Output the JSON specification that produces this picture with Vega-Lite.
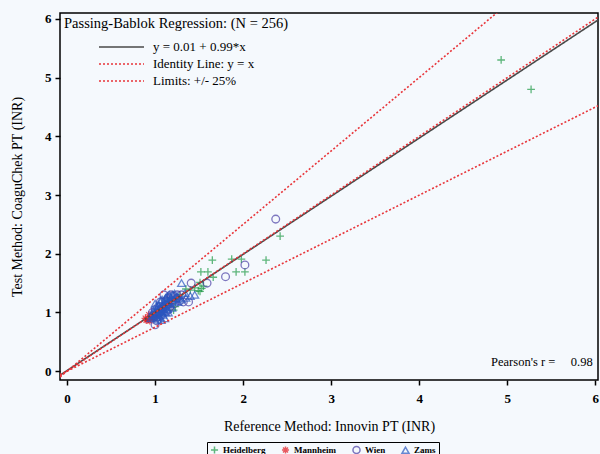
{
  "$schema": "https://vega.github.io/schema/vega-lite/v6.json",
  "width": 538,
  "height": 367,
  "autosize": {"type": "none"},
  "padding": {"left": 60, "top": 13, "right": 2, "bottom": 74},
  "background": "#f5f9fd",
  "config": {
    "font": "Liberation Serif",
    "view": {"stroke": "black", "strokeWidth": 1.5},
    "axis": {
      "domain": false, "grid": false,
      "tickColor": "black", "tickWidth": 1.5, "tickSize": 5,
      "labelFont": "Liberation Serif", "labelFontSize": 13, "labelFontWeight": "bold", "labelColor": "black",
      "titleFont": "Liberation Serif", "titleFontSize": 14, "titleFontWeight": "normal", "titleColor": "black"
    }
  },
  "datasets": {
    "points": [
      {"site": "Heidelberg", "x": 4.93, "y": 5.30},
      {"site": "Heidelberg", "x": 5.27, "y": 4.80},
      {"site": "Heidelberg", "x": 2.42, "y": 2.30},
      {"site": "Heidelberg", "x": 2.26, "y": 1.89},
      {"site": "Heidelberg", "x": 1.98, "y": 1.91},
      {"site": "Heidelberg", "x": 1.87, "y": 1.91},
      {"site": "Heidelberg", "x": 1.65, "y": 1.89},
      {"site": "Heidelberg", "x": 2.02, "y": 1.69},
      {"site": "Heidelberg", "x": 1.92, "y": 1.69},
      {"site": "Heidelberg", "x": 1.52, "y": 1.69},
      {"site": "Heidelberg", "x": 1.60, "y": 1.69},
      {"site": "Heidelberg", "x": 1.66, "y": 1.60},
      {"site": "Heidelberg", "x": 1.51, "y": 1.51},
      {"site": "Heidelberg", "x": 1.53, "y": 1.41},
      {"site": "Heidelberg", "x": 1.49, "y": 1.37},
      {"site": "Heidelberg", "x": 1.51, "y": 1.36},
      {"site": "Heidelberg", "x": 1.23, "y": 1.10},
      {"site": "Heidelberg", "x": 1.21, "y": 1.04},
      {"site": "Heidelberg", "x": 1.18, "y": 1.15},
      {"site": "Heidelberg", "x": 1.28, "y": 1.30},
      {"site": "Heidelberg", "x": 1.35, "y": 1.40},
      {"site": "Heidelberg", "x": 1.40, "y": 1.38},
      {"site": "Heidelberg", "x": 1.25, "y": 1.25},
      {"site": "Heidelberg", "x": 1.55, "y": 1.45},
      {"site": "Heidelberg", "x": 1.45, "y": 1.42},
      {"site": "Heidelberg", "x": 1.14, "y": 1.20},
      {"site": "Mannheim", "x": 0.89, "y": 0.90},
      {"site": "Mannheim", "x": 0.92, "y": 0.88},
      {"site": "Mannheim", "x": 0.95, "y": 0.92},
      {"site": "Mannheim", "x": 0.96, "y": 0.94},
      {"site": "Mannheim", "x": 0.90, "y": 0.87},
      {"site": "Mannheim", "x": 0.93, "y": 0.96},
      {"site": "Mannheim", "x": 0.98, "y": 0.90},
      {"site": "Mannheim", "x": 1.00, "y": 0.92},
      {"site": "Mannheim", "x": 1.17, "y": 1.15},
      {"site": "Mannheim", "x": 1.05, "y": 0.96},
      {"site": "Mannheim", "x": 0.94, "y": 0.86},
      {"site": "Mannheim", "x": 1.02, "y": 1.00},
      {"site": "Wien", "x": 2.37, "y": 2.59},
      {"site": "Wien", "x": 2.02, "y": 1.81},
      {"site": "Wien", "x": 1.80, "y": 1.61},
      {"site": "Wien", "x": 1.59, "y": 1.50},
      {"site": "Wien", "x": 1.41, "y": 1.50},
      {"site": "Wien", "x": 1.38, "y": 1.18},
      {"site": "Wien", "x": 1.32, "y": 1.18},
      {"site": "Wien", "x": 1.25, "y": 1.24},
      {"site": "Wien", "x": 1.00, "y": 0.79},
      {"site": "Wien", "x": 1.02, "y": 0.86},
      {"site": "Wien", "x": 1.05, "y": 1.00},
      {"site": "Wien", "x": 1.08, "y": 1.05},
      {"site": "Wien", "x": 1.10, "y": 1.10},
      {"site": "Wien", "x": 1.12, "y": 1.20},
      {"site": "Wien", "x": 1.15, "y": 1.25},
      {"site": "Wien", "x": 1.18, "y": 1.30},
      {"site": "Wien", "x": 1.20, "y": 1.28},
      {"site": "Wien", "x": 1.05, "y": 1.10},
      {"site": "Wien", "x": 0.98, "y": 0.95},
      {"site": "Wien", "x": 1.00, "y": 1.05},
      {"site": "Wien", "x": 1.03, "y": 0.92},
      {"site": "Wien", "x": 1.07, "y": 0.95},
      {"site": "Wien", "x": 1.13, "y": 1.02},
      {"site": "Wien", "x": 1.22, "y": 1.15},
      {"site": "Wien", "x": 1.28, "y": 1.20},
      {"site": "Wien", "x": 1.10, "y": 1.30},
      {"site": "Wien", "x": 1.15, "y": 1.05},
      {"site": "Wien", "x": 0.97, "y": 1.00},
      {"site": "Wien", "x": 1.06, "y": 1.18},
      {"site": "Wien", "x": 1.25, "y": 1.30},
      {"site": "Wien", "x": 1.30, "y": 1.30},
      {"site": "Wien", "x": 1.17, "y": 1.10},
      {"site": "Wien", "x": 1.02, "y": 0.98},
      {"site": "Wien", "x": 1.12, "y": 1.12},
      {"site": "Zams", "x": 1.30, "y": 1.50},
      {"site": "Zams", "x": 1.45, "y": 1.30},
      {"site": "Zams", "x": 1.34, "y": 1.33},
      {"site": "Zams", "x": 1.07, "y": 0.87},
      {"site": "Zams", "x": 1.11, "y": 0.90},
      {"site": "Zams", "x": 1.00, "y": 1.00},
      {"site": "Zams", "x": 1.02, "y": 1.05},
      {"site": "Zams", "x": 1.05, "y": 1.08},
      {"site": "Zams", "x": 1.08, "y": 1.12},
      {"site": "Zams", "x": 1.10, "y": 1.15},
      {"site": "Zams", "x": 1.12, "y": 1.25},
      {"site": "Zams", "x": 1.14, "y": 1.28},
      {"site": "Zams", "x": 1.16, "y": 1.30},
      {"site": "Zams", "x": 1.20, "y": 1.30},
      {"site": "Zams", "x": 1.22, "y": 1.32},
      {"site": "Zams", "x": 1.25, "y": 1.28},
      {"site": "Zams", "x": 1.27, "y": 1.25},
      {"site": "Zams", "x": 0.98, "y": 0.92},
      {"site": "Zams", "x": 1.00, "y": 0.95},
      {"site": "Zams", "x": 1.03, "y": 0.98},
      {"site": "Zams", "x": 1.05, "y": 1.02},
      {"site": "Zams", "x": 1.07, "y": 1.05},
      {"site": "Zams", "x": 1.09, "y": 1.08},
      {"site": "Zams", "x": 1.11, "y": 1.10},
      {"site": "Zams", "x": 1.13, "y": 1.13},
      {"site": "Zams", "x": 1.15, "y": 1.18},
      {"site": "Zams", "x": 1.18, "y": 1.22},
      {"site": "Zams", "x": 1.20, "y": 1.20},
      {"site": "Zams", "x": 1.23, "y": 1.24},
      {"site": "Zams", "x": 0.96, "y": 0.98},
      {"site": "Zams", "x": 0.99, "y": 1.02},
      {"site": "Zams", "x": 1.01, "y": 1.10},
      {"site": "Zams", "x": 1.04, "y": 1.12},
      {"site": "Zams", "x": 1.06, "y": 1.20},
      {"site": "Zams", "x": 1.08, "y": 1.22},
      {"site": "Zams", "x": 1.10, "y": 1.02},
      {"site": "Zams", "x": 1.14, "y": 1.06},
      {"site": "Zams", "x": 1.17, "y": 1.15},
      {"site": "Zams", "x": 1.03, "y": 0.88},
      {"site": "Zams", "x": 1.06, "y": 0.92},
      {"site": "Zams", "x": 1.09, "y": 0.96},
      {"site": "Zams", "x": 1.12, "y": 1.00},
      {"site": "Zams", "x": 0.95, "y": 0.90},
      {"site": "Zams", "x": 1.00, "y": 1.15},
      {"site": "Zams", "x": 1.15, "y": 1.00},
      {"site": "Zams", "x": 1.19, "y": 1.08},
      {"site": "Zams", "x": 1.26, "y": 1.18},
      {"site": "Zams", "x": 1.30, "y": 1.22},
      {"site": "Zams", "x": 1.35, "y": 1.25},
      {"site": "Zams", "x": 1.40, "y": 1.28},
      {"site": "Zams", "x": 1.04, "y": 1.04},
      {"site": "Zams", "x": 1.08, "y": 1.00},
      {"site": "Zams", "x": 1.13, "y": 1.18},
      {"site": "Zams", "x": 1.18, "y": 1.26},
      {"site": "Zams", "x": 1.02, "y": 0.95},
      {"site": "Zams", "x": 0.97, "y": 0.95}
    ],
    "lines": [
      {"series": "y = 0.01 + 0.99*x", "part": "reg", "x": -0.08, "y": -0.069},
      {"series": "y = 0.01 + 0.99*x", "part": "reg", "x": 6.03, "y": 5.98},
      {"series": "Identity Line: y = x", "part": "id", "x": -0.08, "y": -0.08},
      {"series": "Identity Line: y = x", "part": "id", "x": 6.03, "y": 6.03},
      {"series": "Limits: +/- 25%", "part": "upper", "x": -0.08, "y": -0.10},
      {"series": "Limits: +/- 25%", "part": "upper", "x": 6.03, "y": 7.54},
      {"series": "Limits: +/- 25%", "part": "lower", "x": -0.08, "y": -0.06},
      {"series": "Limits: +/- 25%", "part": "lower", "x": 6.03, "y": 4.52}
    ]
  },
  "layer": [
    {
      "data": {"name": "points"},
      "mark": {"type": "point", "filled": false, "size": 60, "strokeWidth": 1.3},
      "encoding": {
        "x": {"field": "x", "type": "quantitative", "scale": {"domain": [-0.08, 6.03], "nice": false, "zero": false},
              "axis": {"values": [0, 1, 2, 3, 4, 5, 6], "format": "d", "title": "Reference Method: Innovin PT (INR)", "labelPadding": 7, "titlePadding": 14}},
        "y": {"field": "y", "type": "quantitative", "scale": {"domain": [-0.15, 6.1], "nice": false, "zero": false},
              "axis": {"values": [0, 1, 2, 3, 4, 5, 6], "format": "d", "title": "Test Method: CoaguChek PT (INR)", "labelPadding": 4, "titlePadding": 20}},
        "color": {"field": "site", "type": "nominal",
                  "scale": {"domain": ["Heidelberg", "Mannheim", "Wien", "Zams"], "range": ["#1f9a46", "#e3181e", "#4a3fa6", "#2a57c0"]},
                  "legend": {"orient": "none", "legendX": 147, "legendY": 429, "direction": "horizontal", "title": null,
                             "strokeColor": "black", "padding": 3, "columnPadding": 12, "labelFont": "Liberation Serif",
                             "labelFontSize": 9, "labelFontWeight": "bold", "labelColor": "black", "symbolSize": 50, "symbolStrokeWidth": 1.5}},
        "shape": {"field": "site", "type": "nominal",
                  "scale": {"domain": ["Heidelberg", "Mannheim", "Wien", "Zams"],
                            "range": ["M-1,0H1M0,-1V1", "M-1,0H1M0,-1V1M-0.7,-0.7L0.7,0.7M-0.7,0.7L0.7,-0.7", "circle", "triangle-up"]}}
      }
    },
    {
      "data": {"name": "lines"},
      "mark": {"type": "line", "clip": true, "strokeWidth": 1.6},
      "encoding": {
        "x": {"field": "x", "type": "quantitative"},
        "y": {"field": "y", "type": "quantitative"},
        "detail": {"field": "part"},
        "stroke": {"field": "series", "type": "nominal",
                  "scale": {"domain": ["y = 0.01 + 0.99*x", "Identity Line: y = x", "Limits: +/- 25%"], "range": ["#4a4a4a", "#e8353a", "#e8353a"]},
                  "legend": {"orient": "top-left", "offset": 4, "padding": 0, "title": "Passing-Bablok Regression: (N = 256)", "titleLimit": 400,
                             "titleFont": "Liberation Serif", "titleFontSize": 14.5, "titleFontWeight": "normal", "titleColor": "black", "titlePadding": 9,
                             "labelFont": "Liberation Serif", "labelFontSize": 13, "labelColor": "black", "symbolType": "M-4.5,0H4.5",
                             "symbolSize": 100, "symbolStrokeWidth": 1.6, "symbolOffset": 51, "labelOffset": 25, "rowPadding": 3}},
        "strokeDash": {"field": "series", "type": "nominal",
                       "scale": {"domain": ["y = 0.01 + 0.99*x", "Identity Line: y = x", "Limits: +/- 25%"], "range": [[1, 0], [2, 2], [2, 2]]}}
      }
    },
    {
      "data": {"values": [{"label": "Pearson's r =\u00a0\u00a0\u00a0\u00a0\u00a00.98"}]},
      "mark": {"type": "text", "align": "right", "baseline": "bottom", "fontSize": 12.5, "font": "Liberation Serif", "color": "black", "dy": -2},
      "encoding": {
        "x": {"datum": 5.97},
        "y": {"datum": 0.0},
        "text": {"field": "label"}
      }
    }
  ]
}
